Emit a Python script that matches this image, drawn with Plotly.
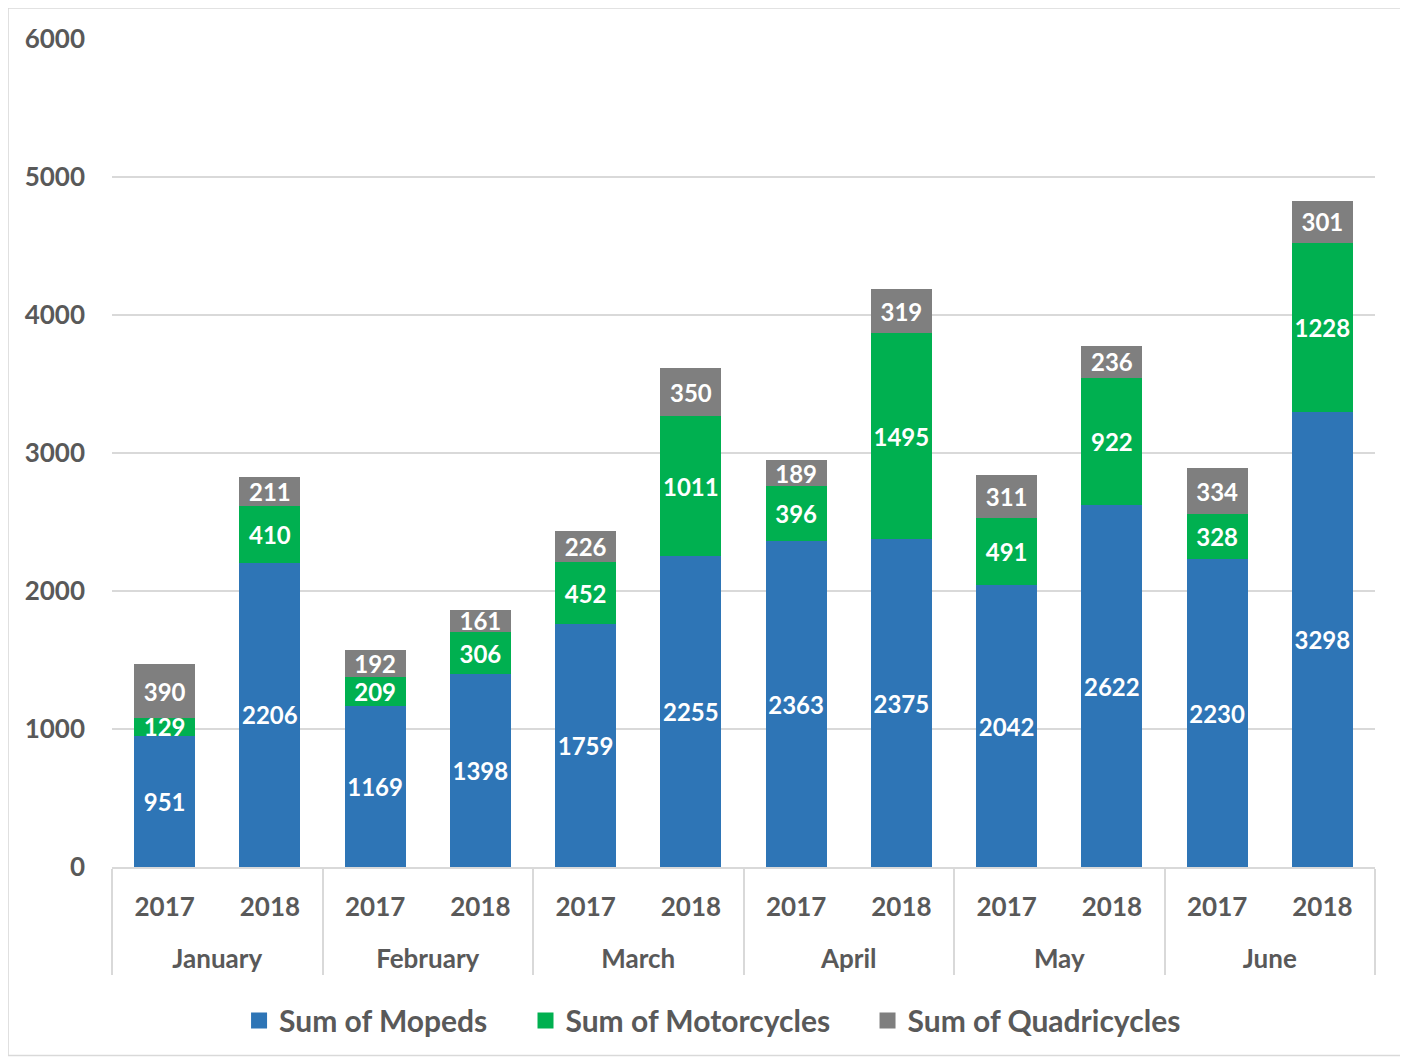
import plotly.graph_objects as go

months = ["January", "January", "February", "February", "March", "March",
          "April", "April", "May", "May", "June", "June"]
years = ["2017", "2018"] * 6
mopeds = [951, 2206, 1169, 1398, 1759, 2255, 2363, 2375, 2042, 2622, 2230, 3298]
motorcycles = [129, 410, 209, 306, 452, 1011, 396, 1495, 491, 922, 328, 1228]
quadricycles = [390, 211, 192, 161, 226, 350, 189, 319, 311, 236, 334, 301]

series = [
    ("Sum of Mopeds", mopeds, "#2E75B6"),
    ("Sum of Motorcycles", motorcycles, "#00B050"),
    ("Sum of Quadricycles", quadricycles, "#7F7F7F"),
]

FONT = "Lato"
month_labels = ["<br>" + m for m in months]
x_cats = [month_labels, years]

fig = go.Figure()
for name, vals, color in series:
    fig.add_trace(go.Bar(
        x=x_cats, y=vals, name=name, showlegend=False,
        marker=dict(color=color, line=dict(width=0)),
        text=[str(v) for v in vals], textposition="inside",
        insidetextanchor="middle", textangle=0,
        textfont=dict(family=FONT, size=24, color="white", weight="bold"),
    ))

legend_ids = ["legend", "legend2", "legend3"]
legend_x = [0.1006, 0.3274, 0.5982]
# legend entries with square symbols, one legend box per entry
for (name, vals, color), lid in zip(series, legend_ids):
    fig.add_trace(go.Scatter(
        x=[month_labels[:1], years[:1]], y=[None], name=name, mode="markers",
        marker=dict(symbol="square", size=19, color=color), showlegend=True,
        legend=lid,
    ))

legend_common = dict(orientation="h", xanchor="left", y=-0.1855, yanchor="middle",
                     font=dict(family=FONT, size=30, color="#595959", weight="bold"),
                     itemsizing="trace", itemwidth=30, bgcolor="rgba(0,0,0,0)")

fig.update_layout(
    barmode="stack", bargap=0.42,
    width=1400, height=1051,
    margin=dict(l=104, r=33, t=31, b=190),
    plot_bgcolor="white", paper_bgcolor="white",
    font=dict(family=FONT, color="#595959", size=26, weight="bold"),
    uniformtext=dict(minsize=24, mode="show"),
    legend=dict(x=legend_x[0], **legend_common),
    legend2=dict(x=legend_x[1], **legend_common),
    legend3=dict(x=legend_x[2], **legend_common),
)
fig.update_yaxes(range=[0, 6002], dtick=1000, tick0=0, showgrid=True, gridcolor="#D9D9D9",
                 gridwidth=1.5, zeroline=False, showline=False, ticks="",
                 ticklabelstandoff=26,
                 tickfont=dict(family=FONT, size=26, color="#595959", weight="bold"))
fig.update_xaxes(type="multicategory", range=[-0.5, len(years) - 0.5], autorange=False,
                 showline=True, linecolor="#D9D9D9", linewidth=1.5,
                 showdividers=True, dividercolor="#D9D9D9", dividerwidth=1.5,
                 ticks="", ticklabelstandoff=16,
                 tickfont=dict(family=FONT, size=26, color="#595959", weight="bold"))

fig.add_shape(type="rect", xref="paper", yref="paper",
              x0=-0.0823, x1=1.0230, y0=-0.2277, y1=1.0373,
              line=dict(color="#D9D9D9", width=1.5), fillcolor="rgba(0,0,0,0)", layer="below")

fig.write_html("out.html")
